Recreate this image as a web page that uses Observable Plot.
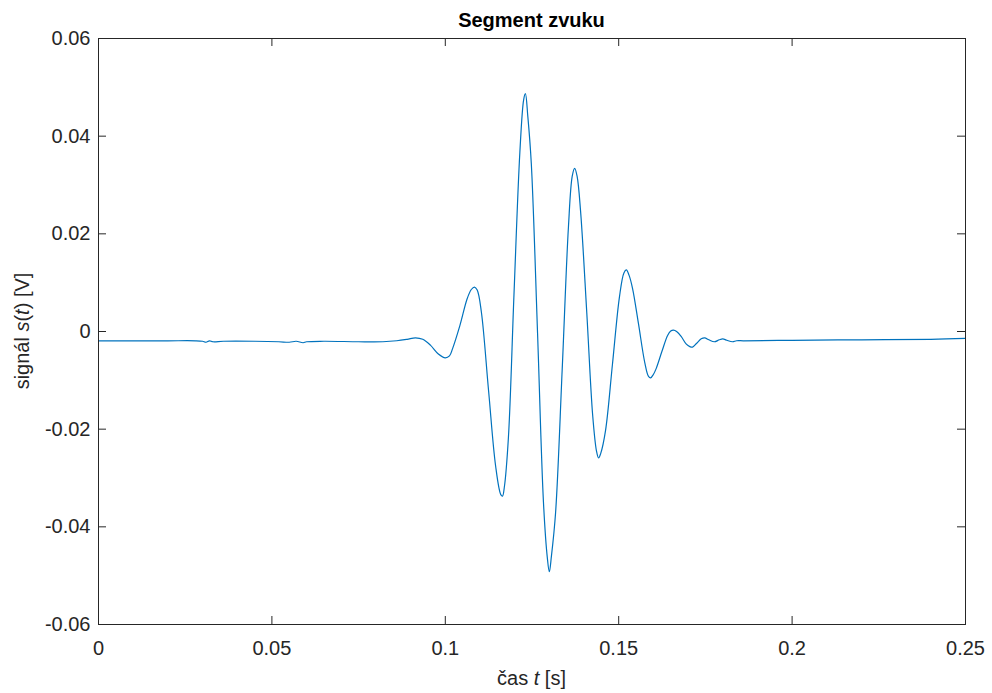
<!DOCTYPE html>
<html><head><meta charset="utf-8">
<script src="https://cdn.jsdelivr.net/npm/d3@7"></script>
<script src="https://cdn.jsdelivr.net/npm/@observablehq/plot@0.6"></script>
<style>body{margin:0;background:#fff} svg{display:block}</style>
</head><body><div id="chart"></div><script>
const time = [0, 0.010, 0.020, 0.028, 0.030, 0.031, 0.032, 0.033, 0.036, 0.045, 0.052, 0.055, 0.057, 0.059, 0.060, 0.065, 0.075, 0.082, 0.086, 0.089,
  0.0914, 0.0935, 0.0957, 0.0980, 0.1000, 0.1012, 0.1021, 0.1042, 0.1063, 0.1075, 0.1084, 0.1092, 0.1104, 0.1125, 0.1145, 0.1160, 0.1165, 0.1170,
  0.1182, 0.1198, 0.1215, 0.1226, 0.1231, 0.1238, 0.1248, 0.1266, 0.1283, 0.1294, 0.1300, 0.1306, 0.1318, 0.1337, 0.1355, 0.1366, 0.1373, 0.1380,
  0.1390, 0.1408, 0.1425, 0.1436, 0.1442, 0.1448, 0.1462, 0.1482, 0.1502, 0.1515, 0.1522, 0.1530, 0.1540, 0.1557, 0.1575, 0.1586, 0.1592, 0.1600,
  0.1608, 0.1625, 0.1641, 0.1650, 0.1658, 0.1667, 0.1680, 0.1695, 0.1705, 0.1713, 0.1725, 0.1738, 0.1748, 0.1760, 0.1776, 0.1790, 0.1800, 0.1812,
  0.1828, 0.1840, 0.1860, 0.200, 0.220, 0.240, 0.250];
const signal = [-0.0019, -0.0019, -0.0019, -0.0019, -0.0020, -0.0022, -0.0019, -0.0021, -0.0020, -0.0020, -0.0021, -0.0022, -0.0020, -0.0023, -0.0021, -0.0020, -0.0021, -0.0021, -0.0019, -0.0016,
  -0.0013, -0.0016, -0.0028, -0.0046, -0.0054, -0.0050, -0.0035, 0.0012, 0.0067, 0.0086, 0.0091, 0.0085, 0.0040, -0.0123, -0.0275, -0.0334, -0.0337, -0.0320,
  -0.0217, 0.0075, 0.0367, 0.0475, 0.0487, 0.0440, 0.0344, -0.0003, -0.0349, -0.0462, -0.0492, -0.0460, -0.0371, -0.0079, 0.0213, 0.0318, 0.0334, 0.0318,
  0.0247, 0.0038, -0.0172, -0.0245, -0.0259, -0.0250, -0.0203, -0.0067, 0.0070, 0.0120, 0.0126, 0.0115, 0.0088, 0.0016, -0.0063, -0.0092, -0.0095, -0.0088,
  -0.0076, -0.0040, -0.0008, 0.0001, 0.0003, 0.0000, -0.0010, -0.0026, -0.0031, -0.0032, -0.0024, -0.0015, -0.0013, -0.0017, -0.0021, -0.0017, -0.0015, -0.0018,
  -0.0021, -0.0019, -0.0019, -0.0018, -0.0017, -0.0016, -0.0014];
const xTicks = [0, 0.05, 0.1, 0.15, 0.2, 0.25];
const xTickLabels = ["0", "0.05", "0.1", "0.15", "0.2", "0.25"];
const yTicks = [-0.06, -0.04, -0.02, 0, 0.02, 0.04, 0.06];
const yTickLabels = ["-0.06", "-0.04", "-0.02", "0", "0.02", "0.04", "0.06"];
const titleText = "Segment zvuku";

const data = time.map((t, i) => ({t, s: signal[i]}));
const font = '"Liberation Sans", Arial, Helvetica, sans-serif';
const W = 992, H = 693, ML = 98, MR = 27, MT = 38, MB = 69;
const FW = W - ML - MR, FH = H - MT - MB, TK = 8;
const axisCol = "#262626";

const plot = Plot.plot({
  width: W, height: H, marginLeft: ML, marginRight: MR, marginTop: MT, marginBottom: MB,
  style: {fontFamily: font, fontSize: "20px", color: axisCol, background: "#fff"},
  x: {domain: [0, 0.25]},
  y: {domain: [-0.06, 0.06]},
  marks: [
    Plot.line(data, {x: "t", y: "s", stroke: "#0072BD", strokeWidth: 1.2, curve: "catmull-rom"}),
    Plot.ruleX(xTicks, {stroke: axisCol, insetTop: FH - TK}),
    Plot.ruleX(xTicks, {stroke: axisCol, insetBottom: FH - TK}),
    Plot.ruleY(yTicks, {stroke: axisCol, insetRight: FW - TK}),
    Plot.ruleY(yTicks, {stroke: axisCol, insetLeft: FW - TK}),
    Plot.axisX(xTicks, {tickSize: 0, tickPadding: 16, tickFormat: (d, i) => xTickLabels[i], label: null, fontSize: 20, fill: axisCol}),
    Plot.axisY(yTicks, {tickSize: 0, tickPadding: 8, tickFormat: (d, i) => yTickLabels[i], label: null, fontSize: 20, fill: axisCol}),
    Plot.frame({stroke: axisCol, strokeWidth: 1})
  ]
});
document.getElementById("chart").appendChild(plot);

const svg = d3.select(plot);
const cx = ML + FW / 2;
svg.append("text").attr("x", cx).attr("y", 26.5).attr("text-anchor", "middle")
  .attr("font-family", font).attr("font-size", 20).attr("font-weight", "bold").attr("fill", "#000")
  .text(titleText);
const xl = svg.append("text").attr("x", cx).attr("y", 685).attr("text-anchor", "middle")
  .attr("font-family", font).attr("font-size", 20).attr("fill", axisCol);
xl.append("tspan").text("čas ");
xl.append("tspan").attr("font-style", "italic").text("t");
xl.append("tspan").text(" [s]");
const yl = svg.append("text").attr("transform", `translate(29,${MT + FH / 2}) rotate(-90)`).attr("text-anchor", "middle")
  .attr("font-family", font).attr("font-size", 20).attr("fill", axisCol);
yl.append("tspan").text("signál ");
yl.append("tspan").attr("font-style", "italic").text("s");
yl.append("tspan").text("(");
yl.append("tspan").attr("font-style", "italic").text("t");
yl.append("tspan").text(") [V]");
</script></body></html>
